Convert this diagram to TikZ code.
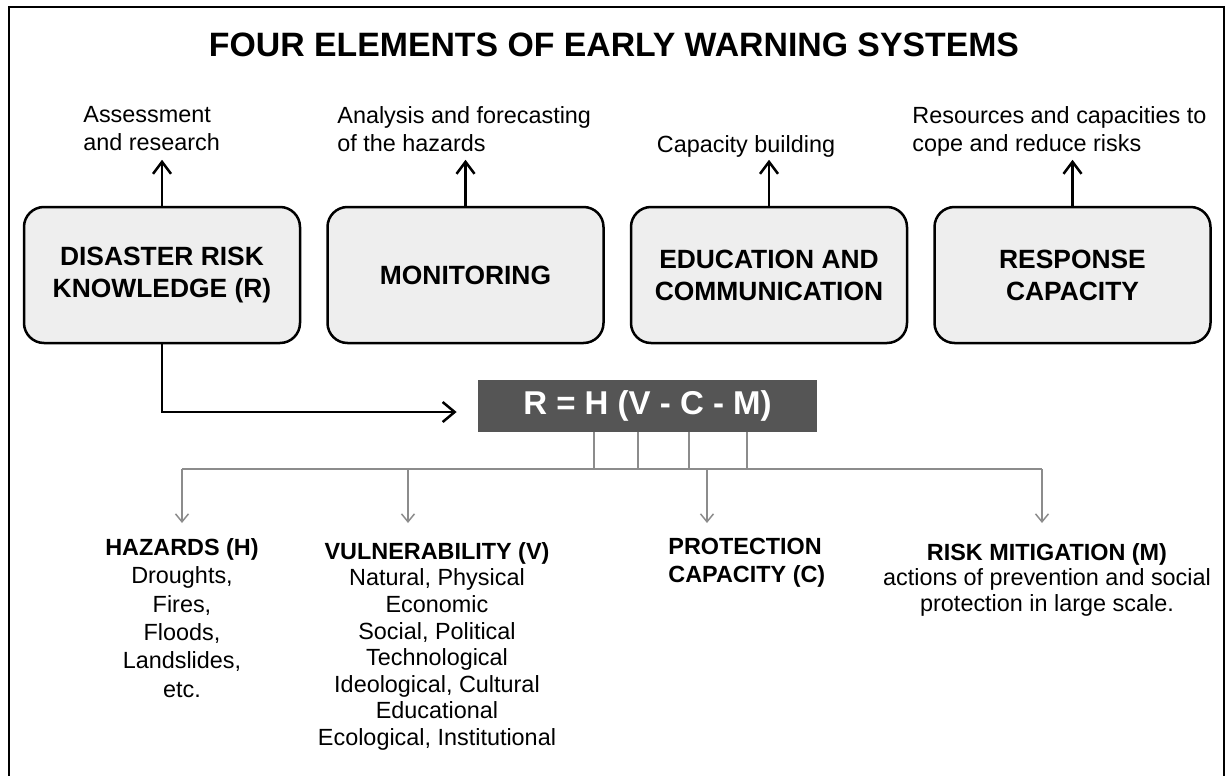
\documentclass[tikz,border=0pt]{standalone}
\usepackage{fontspec}
\setmainfont{Liberation Sans}
\usetikzlibrary{positioning,arrows.meta}
\definecolor{boxgray}{HTML}{EEEEEE}
\definecolor{eqgray}{HTML}{555555}
\definecolor{linegray}{HTML}{8C8C8C}

\begin{document}
\begin{tikzpicture}[x=0.5pt, y=-0.5pt, node distance=12.5pt,
  element/.style={rectangle, rounded corners=10pt, draw, line width=1.25pt, fill=boxgray, minimum width=138pt, minimum height=68pt, align=center, font=\fontsize{13.2}{16}\selectfont\bfseries},
  note/.style={align=left, inner sep=0pt, font=\fontsize{11.7}{14}\selectfont},
  item/.style={align=center, anchor=north, inner sep=0pt},
  up/.style={-{Straight Barb[length=6pt,width=9pt]}, line width=1.25pt},
  bus/.style={linegray, line width=0.75pt},
  drop/.style={-{Straight Barb[length=4pt,width=6.5pt]}, linegray, line width=0.75pt}]
  \useasboundingbox (0,0) rectangle (1228,776);
  \draw[line width=1.3pt] (9,776) |- (1224,7) -- (1224,776);

  \node[font=\fontsize{16.9}{20}\selectfont\bfseries] (title) at (614,45) {FOUR ELEMENTS OF EARLY WARNING SYSTEMS};

  % the four elements
  \node[element] (drk) at (162,275) {DISASTER RISK\\KNOWLEDGE (R)};
  \node[element, right=of drk] (mon) {MONITORING};
  \node[element, right=of mon] (edu) {EDUCATION AND\\COMMUNICATION};
  \node[element, right=of edu] (resp) {RESPONSE\\CAPACITY};

  \node[note, anchor=north west] (nDrk) at (83,106) {Assessment\\and research};
  \node[note, anchor=north west] (nMon) at (337,106) {Analysis and forecasting\\of the hazards};
  \node[note, anchor=base] (nEdu) at (746,152) {Capacity building};
  \node[note, anchor=north west] (nResp) at (912,106) {Resources and capacities to\\cope and reduce risks};

  \foreach \b in {drk,mon,edu,resp}
    \draw[up] (\b.north) -- ([yshift=23pt]\b.north);

  \node[fill=eqgray, text=white, minimum width=169.5pt, minimum height=26pt, font=\fontsize{16.5}{18}\selectfont\bfseries] (eq) at (647.5,406) {R = H (V - C - M)};
  \draw[up, -{Straight Barb[length=6pt,width=10pt]}, shorten >=10.5pt] (drk.south) |- ([yshift=-3pt]eq.west);

  % components of the risk
  \coordinate (bH) at (594,469);
  \coordinate (bV) at (638,469);
  \coordinate (bC) at (689,469);
  \coordinate (bM) at (747,469);
  \coordinate (dH) at (182,523);
  \coordinate (dV) at (408,523);
  \coordinate (dC) at (707,523);
  \coordinate (dM) at (1042,523);

  \foreach \c in {bH,bV,bC,bM}
    \draw[bus] (eq.south -| \c) -- (\c);
  \draw[bus] (dH |- bH) -- (dM |- bH);
  \foreach \d in {dH,dV,dC,dM}
    \draw[drop] (\d |- bH) -- (\d);

  \node[item, font=\fontsize{11.7}{14.2}\selectfont] (hz) at (182,538) {\textbf{HAZARDS (H)}\\Droughts,\\Fires,\\Floods,\\Landslides,\\etc.};
  \node[item, font=\fontsize{11.7}{13.3}\selectfont] (vul) at (437,542) {\textbf{VULNERABILITY (V)}\\Natural, Physical\\Economic\\Social, Political\\Technological\\Ideological, Cultural\\Educational\\Ecological, Institutional};
  \node[item, anchor=north west, align=left, font=\fontsize{11.7}{14}\selectfont\bfseries] (pc) at (668,538) {PROTECTION\\CAPACITY (C)};
  \node[item, font=\fontsize{11.7}{12.8}\selectfont] (mt) at (1047,543) {\textbf{RISK MITIGATION (M)}\\actions of prevention and social\\protection in large scale.};
\end{tikzpicture}
\end{document}
